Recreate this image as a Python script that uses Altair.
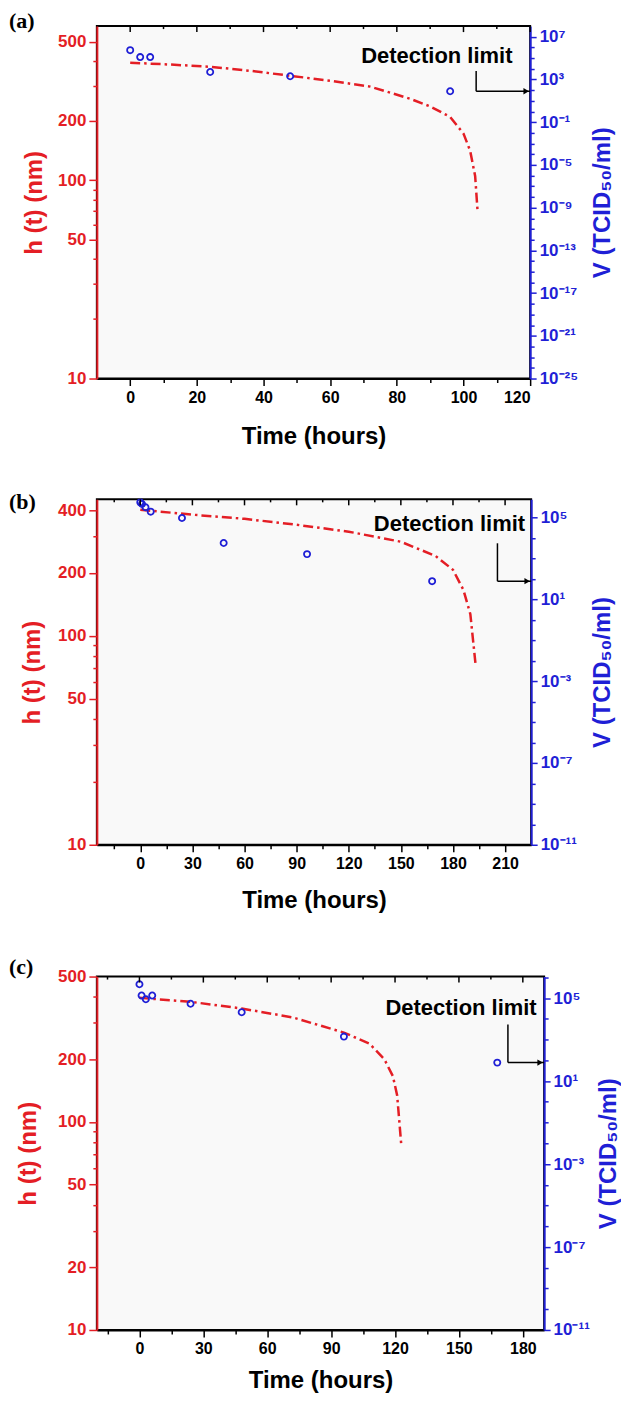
import altair as alt
import pandas as pd

RED = "#e41e25"
BLUE = "#1f1fd6"
SANS = "Liberation Sans"
SERIF = "Liberation Serif"

# ---------------- Panel (a) ----------------
a_line_t = [0, 12, 24, 36, 48, 60, 72, 84, 90, 96, 100, 102, 103.5, 104.2]
a_line_h = [392, 384, 374, 357, 337, 318, 297, 258, 236, 209, 172, 141, 105, 71]
a_pts_t = [0, 3, 6, 24, 48, 96]
a_pts_v = [5.6e5, 1.26e5, 1.26e5, 5.0e3, 2.0e3, 79]
a_det_t = 103.8          # vertical part of the arrow
a_det_top = 6.3e3        # top of vertical part
a_det_v = 79             # detection limit level
a_txt_t = 92
a_txt_v = 1.6e5

# ---------------- Panel (b) ----------------
b_line_t = [0, 30, 60, 90, 120, 150, 170, 180, 186, 190, 193]
b_line_h = [401, 380, 363, 340, 315, 282, 241, 207, 166, 127, 73]
b_pts_t = [0, 1, 3, 6, 24, 48, 96, 168]
b_pts_v = [5.4e5, 4.5e5, 3.1e5, 1.9e5, 9.3e4, 5.6e3, 1.6e3, 76]
b_det_t = 205.6
b_det_top = 5.4e3
b_det_v = 76
b_txt_t = 178
b_txt_v = 4.6e4

# ---------------- Panel (c) ----------------
c_line_t = [0, 24, 48, 72, 96, 108, 115, 119, 121, 123]
c_line_h = [395, 378, 351, 318, 269, 238, 200, 166, 134, 76]
c_pts_t = [0, 1, 3, 6, 24, 48, 96, 168]
c_pts_v = [4.7e5, 1.35e5, 8.9e4, 1.35e5, 5.4e4, 2.1e4, 1.4e3, 78]
c_det_t = 173
c_det_top = 5.4e3
c_det_v = 78
c_txt_t = 151
c_txt_v = 3.4e4

SUP = str.maketrans("-0123456789", "⁻⁰¹²³⁴⁵⁶⁷⁸⁹")


def v_label_expr(exps):
    e = "round(log(datum.value)/LN10)"
    parts = [f"{e} == {k} ? '10{str(k).translate(SUP)}'" for k in exps]
    return " : ".join(parts) + " : ''"


def panel(p):
    step = p["xstep"]
    line_df = pd.DataFrame({"t": p["line_t"], "h": p["line_h"]})
    pts_df = pd.DataFrame({"t": p["pts_t"], "v": p["pts_v"]})
    vr_df = pd.DataFrame({"t": [p["det_t"]], "v": [p["det_v"]], "v2": [p["det_top"]]})
    hr_df = pd.DataFrame({"t": [p["det_t"]], "t2": [p["xdom"][1]], "v": [p["det_v"]]})
    ar_df = pd.DataFrame({"t": [p["xdom"][1]], "v": [p["det_v"]]})
    tx_df = pd.DataFrame({"t": [p["txt_t"]], "v": [p["txt_v"]], "s": ["Detection limit"]})
    lab_df = pd.DataFrame({"s": [p["label"]]})
    top_major = pd.DataFrame({"t": [x for x in p["xticks"] if x % step == 0]})
    top_minor = pd.DataFrame({"t": [x for x in p["xticks"] if x % step != 0]})

    xscale = alt.Scale(domain=p["xdom"], nice=False, zero=False)
    hscale = alt.Scale(type="log", domain=p["hdom"], nice=False)
    vscale = alt.Scale(type="log", domain=p["vdom"], nice=False)

    bottom_axis = alt.Axis(
        orient="bottom", values=p["xticks"], title="Time (hours)", grid=False,
        labelExpr=f"datum.value % {step} == 0 ? datum.label : ''",
        tickSize={"condition": {"test": f"datum.value % {step} == 0", "value": 7}, "value": 4},
        labelPadding=4, domainColor="black", tickColor="black", labelColor="black",
        titleColor="black", titleY=p["bottom_title_y"], titleBaseline="middle",
    )
    hl = p["hlabels"]
    left_axis = alt.Axis(
        orient="left", values=p["hvals"], title="h (t) (nm)", grid=False,
        labelExpr=f"indexof({hl}, datum.value) >= 0 ? format(datum.value, 'd') : ''",
        tickSize={"condition": {"test": f"indexof({hl}, datum.value) >= 0", "value": 8}, "value": 4},
        labelPadding=3, domainColor=RED, tickColor=RED, labelColor=RED, titleColor=RED,
        titleX=p["left_title_x"], titleBaseline="middle", labelFontSize=17,
    )
    e = "round(log(datum.value)/LN10)"
    right_axis = alt.Axis(
        orient="right", values=[10.0 ** k for k in p["vexps"]], title="V (TCID₅₀/ml)", grid=False,
        labelExpr=v_label_expr(p["vlab"]),
        tickSize={"condition": {"test": f"indexof({p['vlab']}, {e}) >= 0", "value": 6}, "value": 4},
        labelPadding=3, domainColor=BLUE, tickColor=BLUE, labelColor=BLUE, titleColor=BLUE,
        titleAngle=270, titleX=p["right_title_x"], titleBaseline="middle", labelFontSize=17,
    )

    X = alt.X("t:Q", scale=xscale, axis=bottom_axis)
    Y = alt.Y("v:Q", scale=vscale, axis=right_axis)

    line = alt.Chart(line_df).mark_line(
        color=RED, strokeWidth=2.5, strokeDash=[10, 4, 2.5, 4]
    ).encode(
        x=X,
        y=alt.Y("h:Q", scale=hscale, axis=left_axis),
    )
    pts = alt.Chart(pts_df).mark_point(
        shape="circle", filled=False, color=BLUE, size=38, strokeWidth=1.8, opacity=1
    ).encode(x=X, y=Y)
    vrule = alt.Chart(vr_df).mark_rule(color="black", strokeWidth=1.5).encode(
        x=X, y=Y, y2="v2:Q",
    )
    hrule = alt.Chart(hr_df).mark_rule(color="black", strokeWidth=1.5).encode(
        x=X, x2="t2:Q", y=Y,
    )
    arrow = alt.Chart(ar_df).mark_point(
        shape="triangle-right", filled=True, color="black", size=40, xOffset=-4, opacity=1
    ).encode(x=X, y=Y)
    txt = alt.Chart(tx_df).mark_text(
        font=SANS, fontWeight="bold", fontSize=22, color="black", align="center", baseline="middle"
    ).encode(x=X, y=Y, text="s:N")
    tmaj = alt.Chart(top_major).mark_rule(color="black", strokeWidth=1.5).encode(
        x=X, y=alt.value(0), y2=alt.value(6),
    )
    tmin = alt.Chart(top_minor).mark_rule(color="black", strokeWidth=1.5).encode(
        x=X, y=alt.value(0), y2=alt.value(3),
    )
    lab = alt.Chart(lab_df).mark_text(
        font=SERIF, fontWeight="bold", fontSize=22, color="black", align="left", baseline="top"
    ).encode(
        x=alt.value(p["label_x"]), y=alt.value(p["label_y"]), text="s:N",
    )
    inner = alt.layer(pts, vrule, hrule, arrow, txt, tmaj, tmin, lab)
    return alt.layer(line, inner).resolve_scale(y="independent").properties(
        width=p["width"], height=p["height"]
    )


pa = panel(dict(
    label="(a)", line_t=a_line_t, line_h=a_line_h, pts_t=a_pts_t, pts_v=a_pts_v,
    det_t=a_det_t, det_top=a_det_top, det_v=a_det_v, txt_t=a_txt_t, txt_v=a_txt_v,
    xdom=[-10, 120], xstep=20, xticks=list(range(0, 121, 10)),
    hdom=[10, 600], hvals=[10, 20, 30, 40, 50, 60, 70, 80, 90, 100, 200, 300, 400, 500],
    hlabels=[10, 50, 100, 200, 500],
    vdom=[1e-25, 1e8], vexps=list(range(-25, 8)), vlab=list(range(-25, 8, 4)),
    width=434, height=353, label_x=-88, label_y=-15,
    left_title_x=-62, right_title_x=72, bottom_title_y=58,
))
pb = panel(dict(
    label="(b)", line_t=b_line_t, line_h=b_line_h, pts_t=b_pts_t, pts_v=b_pts_v,
    det_t=b_det_t, det_top=b_det_top, det_v=b_det_v, txt_t=b_txt_t, txt_v=b_txt_v,
    xdom=[-25, 225], xstep=30, xticks=list(range(-15, 225, 15)),
    hdom=[10, 450], hvals=[10, 20, 30, 40, 50, 60, 70, 80, 90, 100, 200, 300, 400],
    hlabels=[10, 50, 100, 200, 400],
    vdom=[1e-11, 7.6e5], vexps=list(range(-11, 6)), vlab=list(range(-11, 6, 4)),
    width=435, height=346, label_x=-88, label_y=-7,
    left_title_x=-64, right_title_x=71, bottom_title_y=56,
))
pc = panel(dict(
    label="(c)", line_t=c_line_t, line_h=c_line_h, pts_t=c_pts_t, pts_v=c_pts_v,
    det_t=c_det_t, det_top=c_det_top, det_v=c_det_v, txt_t=c_txt_t, txt_v=c_txt_v,
    xdom=[-20, 190], xstep=30, xticks=list(range(-15, 190, 15)),
    hdom=[10, 500], hvals=[10, 20, 30, 40, 50, 60, 70, 80, 90, 100, 200, 300, 400, 500],
    hlabels=[10, 20, 50, 100, 200, 500],
    vdom=[1e-11, 1.1e6], vexps=list(range(-11, 7)), vlab=list(range(-11, 7, 4)),
    width=448, height=354, label_x=-88, label_y=-20,
    left_title_x=-68, right_title_x=64, bottom_title_y=51,
))

chart = alt.concat(
    pa, pb, pc, columns=1, align="none", spacing=41, background="white", padding=0,
).configure_view(
    stroke="black", strokeWidth=2, fill="#f9f9f9"
).configure_axis(
    labelFont=SANS, labelFontWeight="bold", labelFontSize=16,
    titleFont=SANS, titleFontWeight="bold", titleFontSize=24,
    domainWidth=2, tickWidth=1.5, grid=False,
)

chart.save("out.html", embed_options={"renderer": "svg", "actions": False})
